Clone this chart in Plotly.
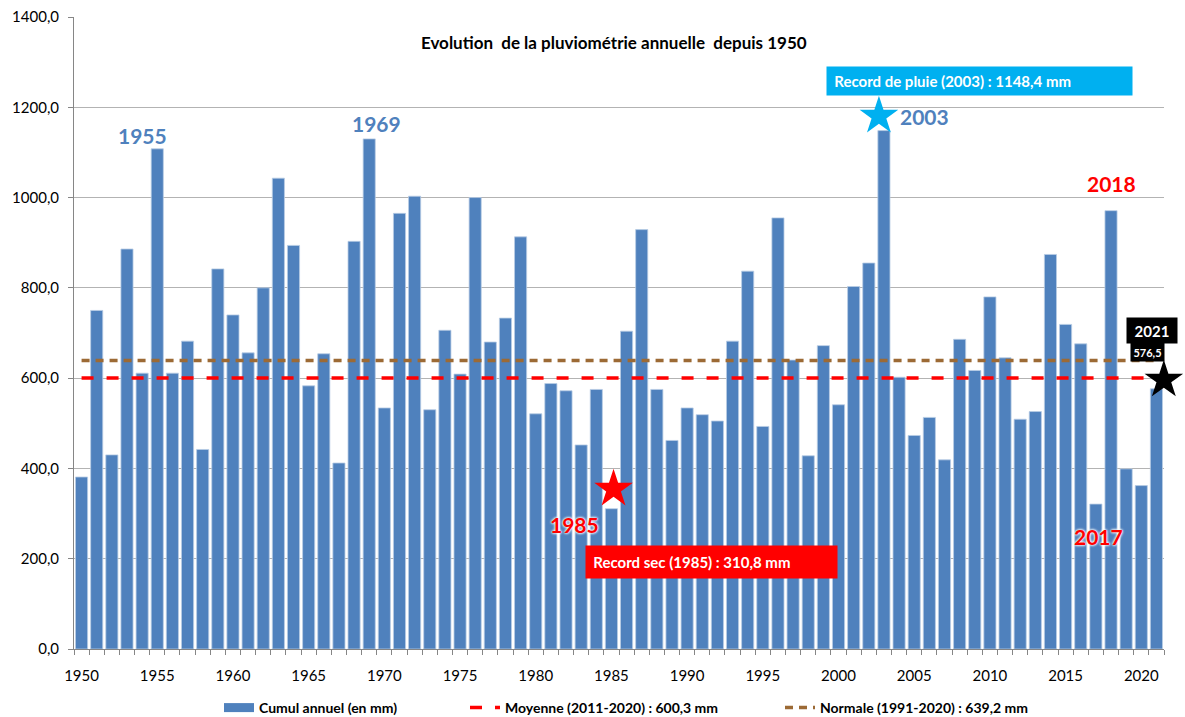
import plotly.graph_objects as go

# ---------------- data ----------------
years = list(range(1950, 2022))
rain_mm = [
    381, 750, 430, 886, 611, 1108, 611, 682, 442, 842,      # 1950-1959
    740, 656, 800, 1043, 894, 583, 654, 412, 903, 1130,     # 1960-1969
    534, 965, 1003, 530, 706, 609, 1000, 680, 733, 913,     # 1970-1979
    521, 588, 572, 452, 575, 310.8, 704, 929, 575, 462,     # 1980-1989
    534, 519, 505, 682, 837, 493, 955, 640, 428, 672,       # 1990-1999
    541, 803, 855, 1148.4, 602, 473, 513, 419, 686, 617,    # 2000-2009
    780, 645, 509, 526, 874, 719, 676, 321, 971, 399,       # 2010-2019
    362, 576.5,                                             # 2020-2021
]
mean_2011_2020 = 600.3
normal_1991_2020 = 639.2
ytick_vals = [0, 200, 400, 600, 800, 1000, 1200, 1400]
ytick_text = ["0,0", "200,0", "400,0", "600,0", "800,0", "1000,0", "1200,0", "1400,0"]
xtick_vals = list(range(1950, 2021, 5))

def fr(v):
    return f"{v:.1f}".replace(".", ",")

FONT = "Lato"
BLUE = "#4F81BD"
RED = "#FF0000"
CYAN = "#00B0F0"
BROWN = "#9C6A35"

fig = go.Figure()

fig.add_trace(go.Bar(
    x=years, y=rain_mm, name="Cumul annuel (en mm)",
    marker=dict(color=BLUE, line=dict(color="#B9CDE5", width=0.8)),
    showlegend=False, hoverinfo="x+y",
))
# legend entry for the bars (wide flat swatch like the original)
fig.add_trace(go.Scatter(
    x=[None], y=[None], mode="lines", name="Cumul annuel (en mm)",
    line=dict(color=BLUE, width=9), legendwidth=201,
))
fig.add_trace(go.Scatter(
    x=years, y=[mean_2011_2020] * len(years), mode="lines",
    name=f"Moyenne (2011-2020) : {fr(mean_2011_2020)} mm",
    line=dict(color=RED, width=3.5, dash="12px,13px"), legendwidth=270,
))
fig.add_trace(go.Scatter(
    x=years, y=[normal_1991_2020] * len(years), mode="lines",
    name=f"Normale (1991-2020) : {fr(normal_1991_2020)} mm",
    line=dict(color=BROWN, width=3.5, dash="8px,6px"),
))

# stars marking the records
def star(x, y, color):
    fig.add_trace(go.Scatter(
        x=[x], y=[y], mode="markers", showlegend=False, hoverinfo="skip",
        cliponaxis=False,
        marker=dict(symbol="star", size=29, color=color, line=dict(width=0)),
    ))

i_wet = rain_mm.index(max(rain_mm[:-1]))
i_dry = rain_mm.index(min(rain_mm))
star(2002.67, 1180.7, CYAN)
star(1985.14, 354.4, RED)
star(2021.49, 596.0, "black")

annotations = []

def label(text, x, y, color, size=21, shadow=None):
    f = dict(family=FONT, size=size, color=color, weight="bold")
    if shadow:
        f["shadow"] = shadow
    annotations.append(dict(
        text=text, x=x, y=y, xref="x", yref="y", showarrow=False,
        xanchor="center", yanchor="middle", font=f,
    ))

label("1955", 1954.02, 1138.6, BLUE)
label("1969", 1969.46, 1164.5, BLUE)
label("2003", 2005.68, 1180.7, BLUE)
label("2018", 2018.01, 1031.6, RED)
glow = "0px 0px 3px #ffffff, 0px 0px 3px #ffffff, 0px 0px 2px #dde8f5"
label("2017", 2017.19, 250.3, RED, shadow=glow)
label("1985", 1982.53, 274.7, RED, shadow=glow)

def box(text, x, y, w, h, bg, size, xanchor="left", align="left"):
    annotations.append(dict(
        text=text, x=x, y=y, xref="x", yref="y", showarrow=False,
        xanchor=xanchor, yanchor="middle", width=w, height=h, align=align,
        valign="middle", bgcolor=bg, borderpad=0,
        font=dict(family=FONT, size=size, color="white", weight="bold"),
    ))

box(f"\u00a0\u00a0Record de pluie ({years[i_wet]}) : {fr(rain_mm[i_wet])} mm",
    1999.17, 1258.2, 305, 28, CYAN, 15)
box(f"\u00a0\u00a0Record sec ({years[i_dry]}) : {fr(rain_mm[i_dry])} mm",
    1983.25, 192.7, 251, 32, RED, 15)
box(str(years[-1]), 2020.71, 705.5, 50, 25, "black", 15, xanchor="center", align="center")
box(fr(rain_mm[-1]), 2020.41, 659.0, 33, 18, "black", 11, xanchor="center", align="center")

fig.update_layout(
    width=1185, height=717,
    margin=dict(l=74, r=21, t=17, b=68, autoexpand=False),
    paper_bgcolor="white", plot_bgcolor="white",
    bargap=0.2,
    font=dict(family=FONT, color="black"),
    title=dict(
        text="Evolution  de la pluviométrie annuelle  depuis 1950",
        x=(613.8 - 74) / 1090, xref="paper", xanchor="center",
        y=1 - 43 / 717, yref="container", yanchor="middle",
        font=dict(family=FONT, size=17, color="black", weight="bold"),
    ),
    xaxis=dict(
        range=[1949.5, 2021.5], tickvals=xtick_vals, ticks="",
        showgrid=False, zeroline=False,
        showline=True, linecolor="#868686", linewidth=1,
        tickfont=dict(family=FONT, size=15, color="black"),
        ticklabelstandoff=13,
        minor=dict(ticks="outside", tick0=1949.5, dtick=1, ticklen=5,
                   tickcolor="#868686", showgrid=False),
    ),
    yaxis=dict(
        range=[0, 1400], tickvals=ytick_vals, ticktext=ytick_text,
        ticks="outside", ticklen=5, tickcolor="#868686",
        showline=True, linecolor="#868686", linewidth=1,
        showgrid=True, gridcolor="#B3B3B3", gridwidth=1, zeroline=False,
        tickfont=dict(family=FONT, size=15, color="black"),
        ticklabelstandoff=6,
    ),
    legend=dict(
        orientation="h", x=(219 - 74) / 1090, xanchor="left",
        y=(649 - 708) / 632, yanchor="middle",
        bgcolor="rgba(0,0,0,0)",
        font=dict(family=FONT, size=14, color="black", weight="bold"),
        itemclick=False, itemdoubleclick=False,
    ),
    annotations=annotations,
)

fig.write_html("out.html", config={"displayModeBar": False},
               post_script="document.body.style.margin='0';")
